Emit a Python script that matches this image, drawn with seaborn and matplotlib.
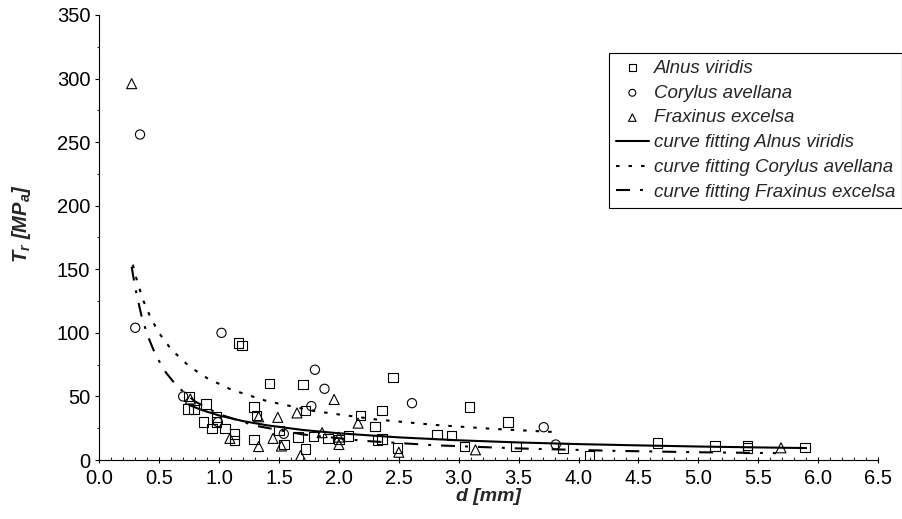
import numpy as np
import pandas as pd
import matplotlib
matplotlib.use('Agg')
import matplotlib.pyplot as plt
import seaborn as sns

# measured points (d in mm, tensile strength in MPa)
alnus_d = [0.75, 0.74, 0.79, 0.89, 0.87, 0.98, 0.98, 0.94, 1.05, 1.13,
           1.13, 1.16, 1.19, 1.29, 1.31, 1.29, 1.42, 1.50, 1.54, 1.66,
           1.70, 1.72, 1.72, 1.79, 1.91, 2.00, 2.08, 2.18, 2.30, 2.32,
           2.36, 2.36, 2.45, 2.49, 2.82, 2.94, 3.05, 3.09, 3.41, 3.48,
           3.87, 4.09, 4.66, 5.14, 5.41, 5.41, 5.89]
alnus_t = [50, 40, 39.5, 44, 30, 33.7, 29.8, 24.6, 24.6, 20.6,
           15.4, 92, 90, 41.6, 35, 16, 60, 23, 12.2, 18,
           59.5, 39, 8.8, 18.5, 17, 16, 19, 35, 26.4, 15.6,
           39, 16.4, 65, 9.3, 20, 19.3, 10.6, 41.6, 29.8, 10.6,
           9.3, 3.5, 13.5, 10.9, 11.4, 9.6, 10]

corylus_d = [0.34, 0.30, 1.02, 0.70, 0.99, 1.54, 1.80, 1.88, 1.77, 2.61, 3.71, 3.81]
corylus_t = [256, 104, 100, 50, 29.8, 20.6, 71, 56, 42.4, 44.7, 25.8, 12.2]

fraxinus_d = [0.27, 0.76, 1.09, 1.33, 1.33, 1.45, 1.49, 1.52, 1.65, 1.68,
              1.86, 1.96, 2.00, 2.00, 2.16, 2.50, 3.14, 5.69]
fraxinus_t = [296, 48, 17, 34, 10.6, 17, 33.5, 11, 37, 3.4,
              21.5, 47.6, 18, 12.2, 29, 6.1, 8, 9.6]

# fitted curves
fit_alnus_d = [0.75, 0.85, 1.0, 1.2, 1.4, 1.7, 2.0, 2.5, 3.0, 3.5, 4.0, 4.5, 5.0, 5.5, 5.9]
fit_alnus_t = [43.3, 39.5, 35.0, 30.6, 27.3, 23.6, 21.0, 17.8, 15.5, 13.8, 12.5, 11.5, 10.6, 9.9, 9.4]

fit_corylus_d = [0.28, 0.32, 0.37, 0.43, 0.5, 0.6, 0.75, 0.9, 1.1, 1.4, 1.8, 2.3, 2.8, 3.3, 3.82]
fit_corylus_t = [153.6, 139.1, 124.8, 111.6, 99.7, 87.0, 73.7, 64.4, 55.4, 46.3, 38.4, 32.0, 27.6, 24.4, 21.9]

fit_fraxinus_d = [0.27, 0.3, 0.35, 0.4, 0.47, 0.55, 0.65, 0.8, 1.0, 1.3, 1.7, 2.2, 2.8, 3.5, 4.3, 5.0, 5.65]
fit_fraxinus_t = [152.0, 135.4, 114.2, 98.6, 82.6, 69.5, 57.8, 46.0, 36.0, 27.0, 20.1, 15.1, 11.6, 9.1, 7.2, 6.1, 5.4]

sns.set_style('ticks')
plt.rcParams['font.family'] = ['Liberation Sans', 'DejaVu Sans']
plt.rcParams['mathtext.fontset'] = 'custom'
plt.rcParams['mathtext.rm'] = 'Liberation Sans:italic:bold'
plt.rcParams['mathtext.it'] = 'Liberation Sans:italic:bold'
plt.rcParams['mathtext.bf'] = 'Liberation Sans:italic:bold'

fig = plt.figure(figsize=(9.03, 5.19), dpi=100)
ax = fig.add_axes([99.3 / 903, 59 / 519, 778.7 / 903, 445 / 519])

sns.scatterplot(x=alnus_d, y=alnus_t, marker='s', s=46, facecolor='none',
                edgecolor='black', linewidth=0.8, label='Alnus viridis', ax=ax)
sns.scatterplot(x=corylus_d, y=corylus_t, marker='o', s=44, facecolor='none',
                edgecolor='black', linewidth=0.8, label='Corylus avellana', ax=ax)
sns.scatterplot(x=fraxinus_d, y=fraxinus_t, marker='^', s=52, facecolor='none',
                edgecolor='black', linewidth=0.8, label='Fraxinus excelsa', ax=ax)

sns.lineplot(x=fit_alnus_d, y=fit_alnus_t, color='black', lw=1.5,
             label='curve fitting Alnus viridis', ax=ax)
sns.lineplot(x=fit_corylus_d, y=fit_corylus_t, color='black', lw=1.5,
             linestyle=(0, (1.7, 4.3)), label='curve fitting Corylus avellana', ax=ax)
sns.lineplot(x=fit_fraxinus_d, y=fit_fraxinus_t, color='black', lw=1.5,
             linestyle=(0, (6.7, 4.8, 1.4, 4.8)), label='curve fitting Fraxinus excelsa', ax=ax)

ax.set_xlim(0, 6.5)
ax.set_ylim(0, 350)
ax.set_xticks(np.arange(0, 6.51, 0.5))
ax.set_xticks(np.arange(0, 6.51, 0.1), minor=True)
ax.set_yticks(np.arange(0, 351, 50))
ax.set_yticks(np.arange(0, 351, 25), minor=True)
ax.set_xticklabels(['%.1f' % v for v in np.arange(0, 6.51, 0.5)])

sns.despine(ax=ax)
for sp in ['left', 'bottom']:
    ax.spines[sp].set_linewidth(0.8)
    ax.spines[sp].set_color('black')

ax.tick_params(axis='y', which='major', direction='out', length=3, width=0.8,
               labelsize=14.5, pad=3.5, colors='black')
ax.tick_params(axis='y', which='minor', direction='out', length=1.8, width=0.8)
ax.tick_params(axis='x', which='major', direction='inout', length=4.5, width=0.8,
               labelsize=14.5, pad=4.5, colors='black')
ax.tick_params(axis='x', which='minor', direction='in', length=2.2, width=0.8)

ax.set_xlabel('d [mm]', fontsize=14, fontweight='bold', fontstyle='italic')
ax.set_ylabel(r'$T_r\ [MP_a]$', fontsize=14.5)
ax.xaxis.set_label_coords(0.5, -0.064)
ax.yaxis.set_label_coords(-0.085, 0.531)

leg = ax.legend(loc='upper right', bbox_to_anchor=(902 / 903, 1 - 53 / 519),
                bbox_transform=fig.transFigure, borderaxespad=0,
                prop={'style': 'italic', 'size': 13.5}, frameon=True, fancybox=False,
                edgecolor='black', framealpha=1, borderpad=0.36, handlelength=1.76,
                handletextpad=0.27, labelspacing=0.41, markerscale=0.75)
leg.get_frame().set_linewidth(0.8)

fig.savefig('out.png', dpi=100)
